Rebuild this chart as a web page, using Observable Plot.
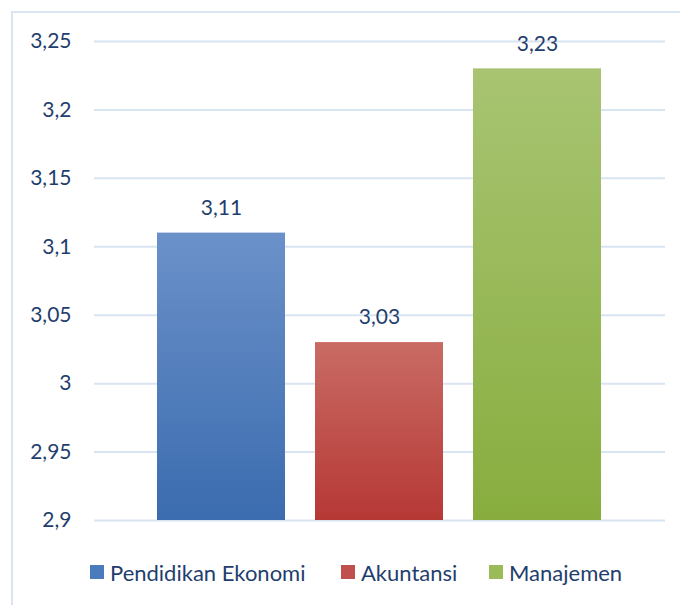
<!DOCTYPE html>
<html>
<head>
<meta charset="utf-8">
<script src="https://cdn.jsdelivr.net/npm/d3@7"></script>
<script src="https://cdn.jsdelivr.net/npm/@observablehq/plot@0.6"></script>
<style>
  html, body { margin: 0; padding: 0; background: #fff; }
  body { width: 680px; height: 605px; position: relative; overflow: hidden; font-family: Lato, "Open Sans", sans-serif; }
  #frame { position: absolute; left: 11px; top: 11px; width: 720px; height: 640px; border: 2px solid #dbe5f2; box-sizing: border-box; }
  #chart { position: absolute; left: 0; top: 0; }
  #legend { position: absolute; top: 559px; left: 0; width: 680px; height: 26px; }
  .item { position: absolute; top: 0; display: flex; align-items: center; height: 26px; color: #1f3e6d; font-size: 22px; white-space: nowrap; }
  .sw { width: 14px; height: 14px; margin-right: 6px; }
</style>
</head>
<body>
<div id="frame"></div>
<div id="chart"></div>
<div id="legend"></div>
<script>
const categories = ["Pendidikan Ekonomi", "Akuntansi", "Manajemen"];
const values = [3.11, 3.03, 3.23];
const labels = ["3,11", "3,03", "3,23"];
const yTicks = [2.9, 2.95, 3, 3.05, 3.1, 3.15, 3.2, 3.25];
const yTickLabels = ["2,9", "2,95", "3", "3,05", "3,1", "3,15", "3,2", "3,25"];
const gradTop = ["#6b91c9", "#c96b64", "#a8c472"];
const gradBottom = ["#3b6caf", "#b63835", "#88ad3e"];
const swatch = ["#4a7bbd", "#c0504d", "#9bbb59"];

const data = categories.map((c, i) => ({cat: c, value: values[i], label: labels[i], fill: `url(#grad${i})`}));

const textColor = "#1f3e6d";

const plot = Plot.plot({
  width: 680,
  height: 540,
  marginTop: 41,
  marginBottom: 20,
  marginLeft: 94,
  marginRight: 15,
  style: {fontFamily: "Lato, 'Open Sans', sans-serif", fontSize: "21px", color: textColor, background: "transparent"},
  x: {domain: categories, range: [157, 601], paddingInner: 0.19, paddingOuter: 0, axis: null},
  y: {domain: [2.9, 3.25], ticks: yTicks, tickFormat: v => yTickLabels[yTicks.indexOf(v)], tickSize: 0, tickPadding: 23, label: null},
  color: {type: "identity"},
  marks: [
    Plot.ruleY(yTicks, {stroke: "#d9e4f3", strokeWidth: 2}),
    Plot.barY(data, {x: "cat", y1: 2.9, y2: "value", fill: "fill"}),
    Plot.text(data, {x: "cat", y: "value", text: "label", dy: -25, fill: textColor, fontSize: 21})
  ]
});

const svg = d3.select(plot);
const defs = svg.insert("defs", ":first-child");
gradTop.forEach((t, i) => {
  const g = defs.append("linearGradient").attr("id", `grad${i}`).attr("x1", 0).attr("y1", 0).attr("x2", 0).attr("y2", 1);
  g.append("stop").attr("offset", "0%").attr("stop-color", t);
  g.append("stop").attr("offset", "100%").attr("stop-color", gradBottom[i]);
});
document.getElementById("chart").appendChild(plot);

const legendX = [90, 341, 489];
const legend = document.getElementById("legend");
categories.forEach((c, i) => {
  const div = document.createElement("div");
  div.className = "item";
  div.style.left = legendX[i] + "px";
  div.innerHTML = `<span class="sw" style="background:${swatch[i]}"></span><span>${c}</span>`;
  legend.appendChild(div);
});
</script>
</body>
</html>
